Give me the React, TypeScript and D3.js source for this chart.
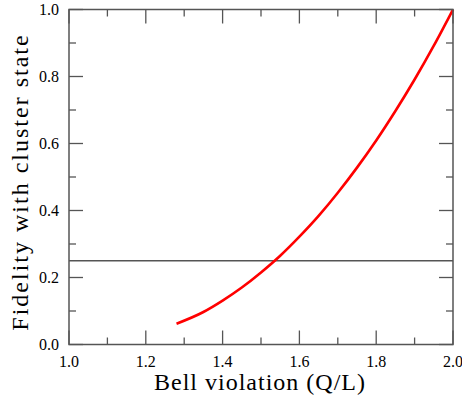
import React, { useEffect, useRef } from 'react';
import * as d3 from 'd3';

// Bell violation (Q/L) vs fidelity
const bellValues = [1.28, 1.35, 1.40, 1.45, 1.50, 1.55, 1.60, 1.65, 1.70, 1.75, 1.80, 1.85, 1.90, 1.95, 2.00];
const fidelityValues = [0.062, 0.097, 0.131, 0.170, 0.215, 0.265, 0.322, 0.384, 0.453, 0.528, 0.609, 0.697, 0.791, 0.892, 1.0];
const thresholdValue = 0.25;
const xTicks = [1.0, 1.2, 1.4, 1.6, 1.8, 2.0];
const xMinorTicks = [1.1, 1.3, 1.5, 1.7, 1.9];
const yTicks = [0.0, 0.2, 0.4, 0.6, 0.8, 1.0];
const yMinorTicks = [0.1, 0.3, 0.5, 0.7, 0.9];

const App = () => {
  const svgRef = useRef<SVGSVGElement>(null);

  useEffect(() => {
    const svg = d3.select(svgRef.current);
    svg.selectAll('*').remove();

    const left = 69, right = 453, top = 9.5, bottom = 344.5;
    const font = 'Liberation Serif';
    const axisColor = '#555';

    const x = d3.scaleLinear().domain([1, 2]).range([left, right]);
    const y = d3.scaleLinear().domain([0, 1]).range([bottom, top]);

    const major = 14, minor = 7;
    const g = svg.append('g');

    // ticks on all four sides, pointing inward
    const tick = (x1: number, y1: number, x2: number, y2: number) =>
      g.append('line')
        .attr('x1', x1).attr('y1', y1).attr('x2', x2).attr('y2', y2)
        .attr('stroke', axisColor).attr('stroke-width', 1.3);

    xTicks.forEach(v => { tick(x(v), bottom, x(v), bottom - major); tick(x(v), top, x(v), top + major); });
    xMinorTicks.forEach(v => { tick(x(v), bottom, x(v), bottom - minor); tick(x(v), top, x(v), top + minor); });
    yTicks.forEach(v => { tick(left, y(v), left + major, y(v)); tick(right, y(v), right - major, y(v)); });
    yMinorTicks.forEach(v => { tick(left, y(v), left + minor, y(v)); tick(right, y(v), right - minor, y(v)); });

    // threshold line
    g.append('line')
      .attr('x1', left).attr('x2', right)
      .attr('y1', y(thresholdValue)).attr('y2', y(thresholdValue))
      .attr('stroke', axisColor).attr('stroke-width', 1.3);

    // curve
    const data = bellValues.map((b, i) => [b, fidelityValues[i]] as [number, number]);
    const line = d3.line<[number, number]>()
      .x(d => x(d[0]))
      .y(d => y(d[1]))
      .curve(d3.curveMonotoneX);

    g.append('path')
      .datum(data)
      .attr('fill', 'none')
      .attr('stroke', '#ff0000')
      .attr('stroke-width', 2.6)
      .attr('d', line);

    // frame
    g.append('rect')
      .attr('x', left).attr('y', top)
      .attr('width', right - left).attr('height', bottom - top)
      .attr('fill', 'none').attr('stroke', axisColor).attr('stroke-width', 1.5);

    // tick labels
    g.selectAll('.xlab')
      .data(xTicks)
      .enter()
      .append('text')
      .attr('x', d => x(d))
      .attr('y', bottom + 22)
      .attr('text-anchor', 'middle')
      .attr('font-family', font)
      .attr('font-size', 16)
      .text(d => d.toFixed(1));

    g.selectAll('.ylab')
      .data(yTicks)
      .enter()
      .append('text')
      .attr('x', left - 10)
      .attr('y', d => y(d) + 5.5)
      .attr('text-anchor', 'end')
      .attr('font-family', font)
      .attr('font-size', 16)
      .text(d => d.toFixed(1));

    // axis titles
    g.append('text')
      .attr('x', (left + right) / 2 - 1)
      .attr('y', 390)
      .attr('text-anchor', 'middle')
      .attr('font-family', font)
      .attr('font-size', 24)
      .attr('letter-spacing', 1)
      .text('Bell violation (Q/L)');

    g.append('text')
      .attr('transform', `translate(28,${(top + bottom) / 2 + 5}) rotate(-90)`)
      .attr('text-anchor', 'middle')
      .attr('font-family', font)
      .attr('font-size', 24)
      .attr('letter-spacing', 2)
      .text('Fidelity with cluster state');
  }, []);

  return (
    <svg ref={svgRef} width={462} height={401}
      style={{ position: 'absolute', left: 0, top: 0, background: '#fff' }} />
  );
};

export default App;
